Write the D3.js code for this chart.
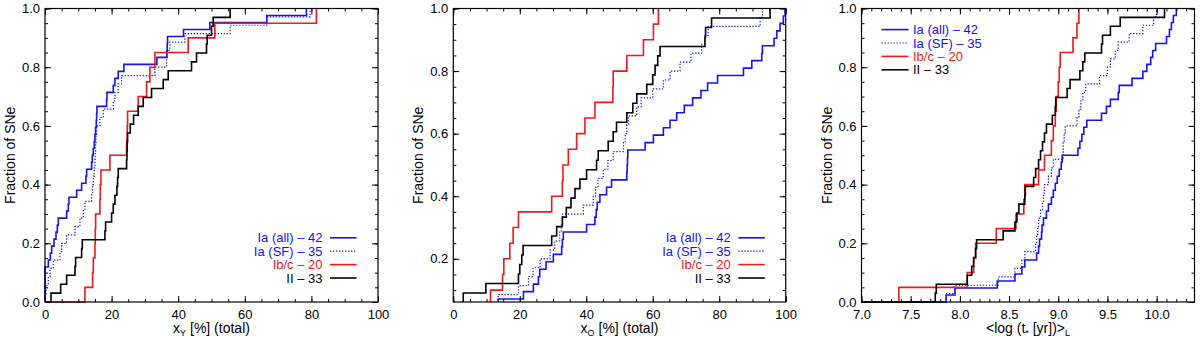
<!DOCTYPE html>
<meta charset="utf-8">
<style>
body { margin: 0; background: #fff; }
svg { display: block; }
</style>
<body>
<script src="https://cdn.jsdelivr.net/npm/d3@7"></script>
<script>

// supernova types (legend) and colours
var seriesLabels = ["Ia (all)", "Ia (SF)", "Ib/c", "II"];
var seriesColors = ["#1515e8", "#1515e8", "#ec1a1a", "#000000"];
var seriesDotted = [false, true, false, false];

// panel 1: x_Y [%] of each host (sorted values, one per SN)
var xyIaAll = [0, 0, 0, 0, 0, 1.0, 1.6, 2.0, 2.7, 3.3, 3.7, 4.0, 6.5, 7.0, 7.2, 9.5, 11.0, 12.3, 12.5,
    14.0, 14.2, 14.5, 14.8, 15.0, 15.2, 15.4, 15.5, 15.6, 18.5, 18.6, 20.5, 21.0, 22.0, 23.7, 33.6,
    36.6, 36.7, 36.8, 41.6, 49.5, 66.6, 78.5];
var xyIaSF = [0, 0.3, 1.0, 1.5, 2.5, 4.5, 5.0, 6.5, 9.0, 10.5, 11.5, 12.0, 14.0, 14.3, 14.5, 14.8, 15.0,
    15.1, 15.2, 15.3, 15.5, 16.5, 17.5, 20.5, 21.0, 22.0, 23.0, 33.0, 36.5, 36.6, 37.5, 42.0, 55.6,
    66.6, 79.6];
var xyIbc = [12.0, 14.3, 14.5, 15.0, 15.1, 15.2, 16.5, 16.6, 16.8, 19.5, 24.5, 24.7, 24.8, 28.0, 30.5,
    31.5, 33.0, 43.0, 51.0, 81.5];
var xyII = [1.8, 4.7, 6.5, 9.0, 9.2, 11.0, 11.2, 18.0, 18.2, 20.0, 20.5, 21.0, 21.6, 21.8, 22.0, 24.5,
    24.6, 24.7, 24.8, 25.6, 26.6, 28.0, 29.5, 32.0, 35.5, 37.0, 44.0, 45.5, 48.5, 48.7, 50.0, 50.5, 55.6];

// panel 2: x_O [%]
var xoIaAll = [10.0, 12.0, 13.5, 21.1, 24.1, 25.6, 26.0, 27.9, 30.1, 32.6, 32.8, 33.1, 40.1, 42.6, 43.0,
    43.3, 44.1, 46.1, 47.6, 52.2, 52.3, 52.4, 52.5, 57.7, 60.2, 63.2, 65.2, 67.2, 69.5, 72.0, 74.5,
    76.5, 79.5, 87.3, 89.8, 92.8, 93.0, 96.5, 97.3, 98.3, 99.3, 99.8];
var xoIaSF = [11.0, 12.5, 13.5, 19.6, 22.6, 24.0, 26.1, 29.1, 30.5, 32.0, 32.5, 32.9, 39.1, 42.1, 42.8,
    43.5, 45.1, 46.5, 48.1, 51.2, 51.7, 52.2, 52.7, 55.2, 56.5, 60.0, 63.2, 65.2, 68.2, 71.5, 74.7,
    75.7, 76.7, 92.3, 93.0];
var xoIbc = [9.5, 11.2, 14.8, 15.2, 17.0, 18.0, 19.6, 29.6, 32.8, 33.0, 34.6, 37.1, 39.6, 42.6, 48.0,
    48.1, 52.2, 57.2, 60.2, 61.7];
var xoII = [2.0, 2.8, 3.0, 9.8, 19.6, 20.0, 20.6, 21.0, 29.6, 31.1, 32.8, 34.0, 35.4, 36.6, 38.1, 40.1,
    43.1, 43.6, 46.6, 48.1, 49.1, 52.2, 54.0, 55.2, 58.2, 60.0, 60.7, 61.5, 62.2, 75.7, 75.9, 77.7, 95.3];

// panel 3: <log t*>_L
var ageIaAll = [7.86, 7.95, 8.38, 8.56, 8.63, 8.66, 8.78, 8.80, 8.81, 8.83, 8.835, 8.85, 8.88, 8.90,
    8.93, 8.95, 8.97, 8.99, 9.01, 9.03, 9.04, 9.20, 9.22, 9.24, 9.26, 9.29, 9.44, 9.49, 9.53, 9.61,
    9.62, 9.75, 9.86, 9.90, 9.94, 9.96, 9.99, 10.10, 10.13, 10.15, 10.17, 10.20];
var ageIaSF = [7.86, 7.95, 8.39, 8.56, 8.63, 8.66, 8.77, 8.78, 8.79, 8.80, 8.82, 8.84, 8.85, 8.86,
    8.90, 8.93, 8.95, 9.05, 9.05, 9.06, 9.07, 9.19, 9.21, 9.23, 9.25, 9.28, 9.42, 9.50, 9.53, 9.58,
    9.61, 9.72, 9.86, 9.97, 10.0];
var ageIbc = [7.38, 8.075, 8.14, 8.16, 8.37, 8.57, 8.65, 8.66, 8.80, 8.86, 8.93, 8.95, 8.97, 8.98,
    9.00, 9.01, 9.02, 9.15, 9.19, 9.21];
var ageII = [7.75, 7.76, 8.075, 8.12, 8.14, 8.16, 8.17, 8.44, 8.56, 8.58, 8.60, 8.66, 8.665, 8.75,
    8.77, 8.80, 8.82, 8.84, 8.86, 8.88, 8.94, 8.97, 8.975, 9.09, 9.12, 9.22, 9.25, 9.27, 9.44, 9.45,
    9.53, 9.63, 10.08];

// tick labels
var pctTicks = [0, 20, 40, 60, 80, 100];
var ageTicks = [7.0, 7.5, 8.0, 8.5, 9.0, 9.5, 10.0];
var fracTicks = [0.0, 0.2, 0.4, 0.6, 0.8, 1.0];
var fracTicksO = [0.2, 0.4, 0.6, 0.8, 1.0];

var width = 1200, height = 338;
var top_ = 8.5, bottom = 302;
var font = "'Liberation Sans', Arial, Helvetica, sans-serif";

var svg = d3.select("body").append("svg")
    .attr("width", width)
    .attr("height", height);

var panels = [
    {left: 45, right: 378, xDomain: [0, 100], yDomain: [0, 1],
        xTicks: pctTicks, xMinor: d3.range(0, 21).map(function (i) { return i * 5; }), xFmt: d3.format("d"),
        yTicks: fracTicks, series: [xyIaAll, xyIaSF, xyIbc, xyII], title: "Y", legend: "br"},
    {left: 453.3, right: 785.7, xDomain: [0, 100], yDomain: [0.062, 1],
        xTicks: pctTicks, xMinor: d3.range(0, 21).map(function (i) { return i * 5; }), xFmt: d3.format("d"),
        yTicks: fracTicksO, series: [xoIaAll, xoIaSF, xoIbc, xoII], title: "O", legend: "br"},
    {left: 861.5, right: 1194.5, xDomain: [7, 10.385], yDomain: [0, 1],
        xTicks: ageTicks, xMinor: d3.range(70, 104).map(function (i) { return i / 10; }), xFmt: d3.format(".1f"),
        yTicks: fracTicks, series: [ageIaAll, ageIaSF, ageIbc, ageII], title: "age", legend: "tl"}
];

panels.forEach(function (p, pi) {
    var x = d3.scaleLinear().domain(p.xDomain).range([p.left, p.right]);
    var y = d3.scaleLinear().domain(p.yDomain).range([bottom, top_]);
    var g = svg.append("g");

    var yMinor = d3.range(0, 21).map(function (i) { return i * 0.05; })
        .filter(function (v) { return v >= p.yDomain[0]; });

    // clip the curves to the frame
    var clipBottom = p.yDomain[0] > 0 ? 0 : 2;
    svg.append("clipPath").attr("id", "clip" + pi)
        .append("rect")
        .attr("x", p.left - 2).attr("y", top_ - 2)
        .attr("width", p.right - p.left + 4)
        .attr("height", bottom - top_ + 2 + clipBottom);

    var line = d3.line()
        .x(function (d) { return x(d[0]); })
        .y(function (d) { return y(d[1]); })
        .curve(d3.curveStepAfter);

    // cumulative fraction curves
    p.series.forEach(function (vals, si) {
        var n = vals.length;
        var pts = [[p.xDomain[0], 0]].concat(vals.map(function (v, k) { return [v, (k + 1) / n]; }));
        g.append("path")
            .attr("clip-path", "url(#clip" + pi + ")")
            .attr("d", line(pts))
            .attr("fill", "none")
            .attr("stroke", seriesColors[si])
            .attr("stroke-width", seriesDotted[si] ? 1.2 : 1.6)
            .attr("stroke-dasharray", seriesDotted[si] ? "1.3,1.7" : null);
    });

    // axes, ticks pointing inwards on all four sides
    function style(sel) {
        sel.selectAll(".domain").remove();
        sel.attr("font-family", font).attr("font-size", 13);
        sel.selectAll("text").attr("fill", "#000");
        sel.selectAll("line").attr("stroke", "#000");
    }
    g.append("g").attr("transform", "translate(0," + bottom + ")")
        .call(d3.axisBottom(x).tickValues(p.xMinor).tickSize(-3).tickFormat("")).call(style);
    g.append("g").attr("transform", "translate(0," + bottom + ")")
        .call(d3.axisBottom(x).tickValues(p.xTicks).tickSize(-6).tickPadding(8).tickFormat(p.xFmt)).call(style);
    g.append("g").attr("transform", "translate(0," + top_ + ")")
        .call(d3.axisTop(x).tickValues(p.xMinor).tickSize(-3).tickFormat("")).call(style);
    g.append("g").attr("transform", "translate(0," + top_ + ")")
        .call(d3.axisTop(x).tickValues(p.xTicks).tickSize(-6).tickFormat("")).call(style);
    g.append("g").attr("transform", "translate(" + p.left + ",0)")
        .call(d3.axisLeft(y).tickValues(yMinor).tickSize(-3).tickFormat("")).call(style);
    g.append("g").attr("transform", "translate(" + p.left + ",0)")
        .call(d3.axisLeft(y).tickValues(p.yTicks).tickSize(-6).tickPadding(5).tickFormat(d3.format(".1f"))).call(style);
    g.append("g").attr("transform", "translate(" + p.right + ",0)")
        .call(d3.axisRight(y).tickValues(yMinor).tickSize(-3).tickFormat("")).call(style);
    g.append("g").attr("transform", "translate(" + p.right + ",0)")
        .call(d3.axisRight(y).tickValues(p.yTicks).tickSize(-6).tickFormat("")).call(style);

    // frame
    g.append("rect")
        .attr("x", p.left).attr("y", top_)
        .attr("width", p.right - p.left).attr("height", bottom - top_)
        .attr("fill", "none").attr("stroke", "#000").attr("stroke-width", 1.2);

    // y title
    g.append("text")
        .attr("transform", "translate(" + (p.left - 30) + "," + ((top_ + bottom) / 2) + ") rotate(-90)")
        .attr("text-anchor", "middle")
        .attr("font-family", font).attr("font-size", 14)
        .text("Fraction of SNe");

    // x title
    var xt = g.append("text")
        .attr("x", (p.left + p.right) / 2).attr("y", 333)
        .attr("text-anchor", "middle")
        .attr("font-family", font).attr("font-size", 14);
    if (p.title === "age") {
        xt.append("tspan").text("<log (t");
        xt.append("tspan").attr("font-size", 9).attr("dy", 3).text("*");
        xt.append("tspan").attr("dy", -3).text(" [yr])>");
        xt.append("tspan").attr("font-size", 9).attr("dy", 3).text("L");
    } else {
        xt.append("tspan").text("x");
        xt.append("tspan").attr("font-size", 9).attr("dy", 3).text(p.title);
        xt.append("tspan").attr("dy", -3).text(" [%] (total)");
    }

    // legend
    var lg = g.append("g").attr("font-family", font).attr("font-size", 13);
    p.series.forEach(function (vals, si) {
        var label = seriesLabels[si] + " \u2013 " + vals.length;
        var row, tx, anchor, l0, l1;
        if (p.legend === "br") {
            row = 237.8 + si * 13.4;
            tx = p.left + 277.5; anchor = "end";
            l0 = p.left + 285; l1 = p.left + 311.5;
        } else {
            row = 29.6 + si * 13.4;
            tx = p.left + 51.5; anchor = "start";
            l0 = p.left + 20; l1 = p.left + 47;
        }
        lg.append("line")
            .attr("x1", l0).attr("x2", l1).attr("y1", row).attr("y2", row)
            .attr("stroke", seriesColors[si])
            .attr("stroke-width", seriesDotted[si] ? 1.2 : 1.6)
            .attr("stroke-dasharray", seriesDotted[si] ? "1.3,1.7" : null);
        lg.append("text")
            .attr("x", tx).attr("y", row).attr("dy", "0.36em")
            .attr("text-anchor", anchor)
            .attr("fill", seriesColors[si])
            .attr("textLength", null)
            .text(label);
    });
});

</script>
</body>
